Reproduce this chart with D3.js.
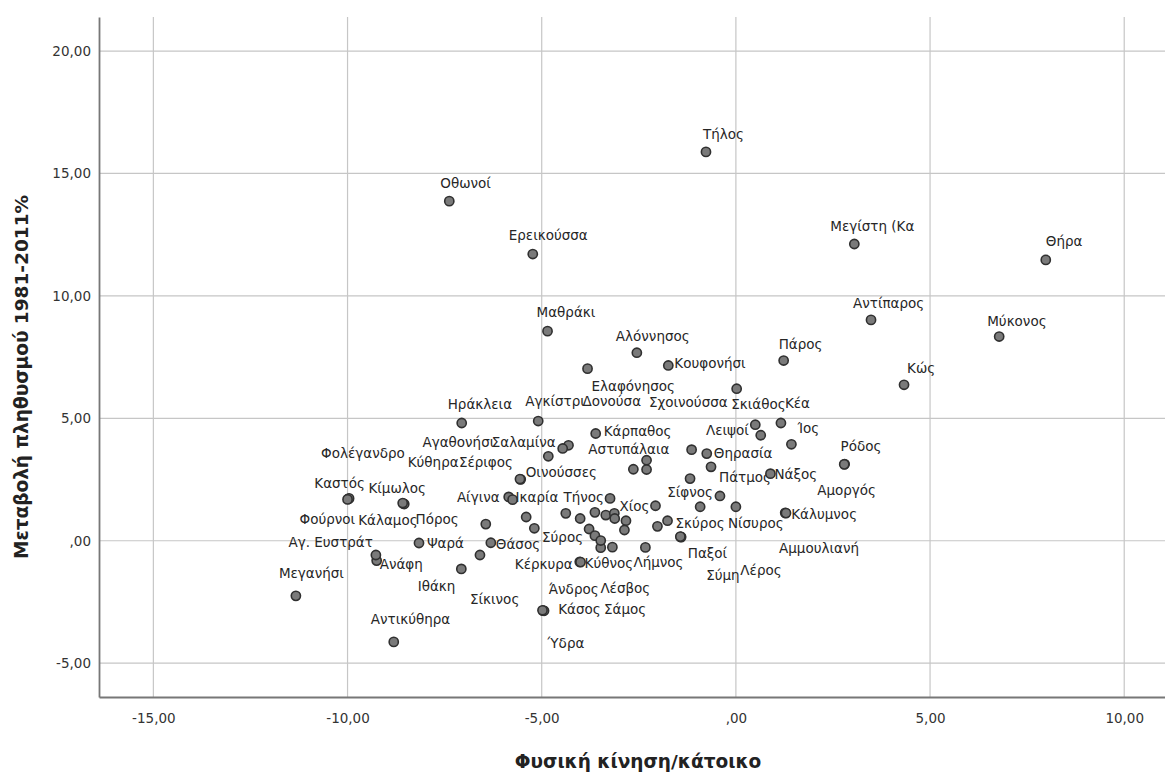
<!DOCTYPE html>
<html>
<head>
<meta charset="utf-8">
<script src="https://cdn.jsdelivr.net/npm/d3@7"></script>
<style>
  body { margin: 0; background: #fff; }
  svg { display: block; }
</style>
</head>
<body>
<svg id="chart"></svg>
<script>
// islands (null = point with no visible label)
const islands = [
  'Τήλος', 'Οθωνοί', 'Ερεικούσσα', 'Μεγίστη (Κα', 'Θήρα', 'Μαθράκι', 'Αλόννησος', 'Ελαφόνησος',
  'Κουφονήσι', 'Αντίπαρος', 'Μύκονος', 'Πάρος', 'Κώς', 'Σχοινούσσα', 'Κέα', 'Σκιάθος',
  'Λειψοί', 'Ίος', 'Ρόδος', 'Αμοργός', 'Νάξος', 'Κάλυμνος', 'Αμμουλιανή', 'Θηρασία',
  null, 'Πάτμος', null, 'Σίφνος', null, 'Νίσυρος', 'Σκύρος', null,
  'Παξοί', 'Σύμη', 'Λέρος', 'Χίος', 'Λήμνος', 'Κέρκυρα', 'Κύθνος', 'Κάσος',
  'Σάμος', 'Ύδρα', 'Άνδρος', 'Λέσβος', 'Σύρος', null, null, null,
  null, null, null, null, null, null, null, 'Τήνος',
  'Αστυπάλαια', null, null, 'Κάρπαθος', 'Δονούσα', 'Σαλαμίνα', 'Αγαθονήσι', 'Αγκίστρι',
  'Ηράκλεια', 'Οινούσσες', 'Σέριφος', 'Αίγινα', 'Ικαρία', null, null, 'Πόρος',
  'Θάσος', 'Σίκινος', 'Ιθάκη', 'Ψαρά', 'Ανάφη', 'Αγ. Ευστράτ', 'Μεγανήσι', 'Αντικύθηρα',
  'Καστός', 'Φολέγανδρο', 'Φούρνοι', 'Κίμωλος', 'Κάλαμος', 'Κύθηρα'
];

// natural movement per inhabitant
const naturalMove = [
  -0.77, -7.38, -5.23, 3.05, 7.98, -4.85, -2.55, -3.82,
  -1.74, 3.48, 6.78, 1.23, 4.33, 0.02, 1.16, 0.50,
  0.64, 1.43, 2.80, 2.79, 0.89, 1.27, 1.29, -0.75,
  -1.14, -0.64, -1.18, -0.41, -0.92, 0.00, -1.76, -2.02,
  -1.42, -1.41, -1.43, -2.07, -2.33, -4.02, -4.00, -4.96,
  -4.94, -4.98, -3.48, -3.18, -3.78, -4.38, -4.01, -3.63,
  -3.35, -3.13, -3.12, -2.83, -2.87, -3.63, -3.48, -3.24,
  -2.64, -2.30, -2.30, -3.61, -4.31, -4.46, -4.83, -5.09,
  -7.06, -5.54, -5.56, -5.85, -5.75, -5.40, -5.19, -6.44,
  -6.31, -6.59, -7.07, -8.16, -9.25, -9.27, -11.33, -8.81,
  -9.98, -9.96, -10.00, -8.56, -8.54, -8.58
];

// population change 1981-2011 %
const popChange = [
  15.88, 13.87, 11.71, 12.12, 11.47, 8.56, 7.68, 7.03,
  7.16, 9.02, 8.34, 7.36, 6.37, 6.21, 4.81, 4.74,
  4.31, 3.94, 3.13, 3.12, 2.74, 1.14, 1.13, 3.56,
  3.72, 3.02, 2.54, 1.83, 1.39, 1.39, 0.82, 0.59,
  0.16, 0.15, 0.17, 1.43, -0.27, -0.86, -0.87, -2.85,
  -2.86, -2.84, -0.28, -0.26, 0.48, 1.12, 0.91, 1.16,
  1.05, 1.12, 0.91, 0.82, 0.44, 0.21, 0.01, 1.73,
  2.92, 3.29, 2.91, 4.38, 3.90, 3.77, 3.45, 4.89,
  4.81, 2.51, 2.52, 1.79, 1.68, 0.97, 0.51, 0.68,
  -0.08, -0.58, -1.15, -0.09, -0.81, -0.58, -2.25, -4.13,
  1.71, 1.73, 1.69, 1.52, 1.50, 1.54
];

const xTicks = [-15, -10, -5, 0, 5, 10];
const yTicks = [-5, 0, 5, 10, 15, 20];

// label placement relative to the point: [dx, dy, anchor]
const labelPos = [
  [-3, -13], [-9, -13], [-24, -14], [-24, -13], [0, -14], [-11, -14], [-21, -12], [4, 22],
  [6, 3], [-18, -12], [-12, -11], [-5, -12], [3, -12], [-9, 18, 'end'], [4, -15], [-24, -16],
  [-12, 0, 'end'], [6, -11], [-4, -13], [-27, 31], [4, 5], [6, 6], [-7, 40], [7, 4],
  null, [8, 15], null, [-7, 1, 'end'], null, [-8, 21], [8, 7], null,
  [7, 21], [25, 43], [60, 38], [-6, 5, 'end'], [-12, 20], [-7, 7, 'end'], [4, 6], [15, 3],
  [60, 3], [5, 38], [-52, 46], [-12, 46], [-6, 13, 'end'], null, null, null,
  null, null, null, null, null, null, null, [-6, 4, 'end'],
  [-45, -15], null, null, [8, 2], [14, -39], [-7, -1, 'end'], [-54, -9, 'end'], [-13, -15],
  [-14, -14], [5, -2], [-7, -12, 'end'], [-9, 5, 'end'], [3, 2], null, null, [-27, 0, 'end'],
  [5, 6], [-10, 49], [-6, 22, 'end'], [8, 5], [3, 8], [-3, -8, 'end'], [-17, -18], [-23, -18],
  [-34, -11], [-28, -40], [-48, 25], [-35, -11], [-46, 21], [5, -36]
];

const width = 1165, height = 776;
const plot = { left: 99, right: 1165, top: 17, bottom: 697 };
const font = '"DejaVu Sans", sans-serif';

const svg = d3.select('#chart').attr('width', width).attr('height', height);

const x = d3.scaleLinear().domain([-16.4, 11.05]).range([plot.left, plot.right]);
const y = d3.scaleLinear().domain([-6.38, 21.39]).range([plot.bottom, plot.top]);

// SPSS style: comma decimals, ",00" for zero, plain hyphen for minus
const fmt = v => v === 0 ? ',00' : d3.format('.2f')(v).replace('.', ',').replace('\u2212', '-');

// grid
svg.append('g')
  .selectAll('line')
  .data(xTicks)
  .enter().append('line')
  .attr('x1', d => x(d)).attr('x2', d => x(d))
  .attr('y1', plot.top).attr('y2', plot.bottom)
  .style('stroke', '#c6c6c6')
  .style('stroke-width', 1.2);
svg.append('g')
  .selectAll('line')
  .data(yTicks)
  .enter().append('line')
  .attr('x1', plot.left).attr('x2', plot.right)
  .attr('y1', d => y(d)).attr('y2', d => y(d))
  .style('stroke', '#c6c6c6')
  .style('stroke-width', 1.2);

// axes
const xAxis = d3.axisBottom(x).tickValues(xTicks).tickFormat(fmt).tickSize(0).tickPadding(16);
const yAxis = d3.axisLeft(y).tickValues(yTicks).tickFormat(fmt).tickSize(0).tickPadding(8);

const gx = svg.append('g').attr('transform', `translate(0,${plot.bottom})`).call(xAxis);
const gy = svg.append('g').attr('transform', `translate(${plot.left},0)`).call(yAxis);
[gx, gy].forEach(g => {
  g.select('.domain').style('stroke', '#777').style('stroke-width', 1.8);
  g.selectAll('text')
    .style('font-family', font)
    .style('font-size', '13.5px')
    .style('fill', '#333');
});

// labels (under the points)
const rows = islands.map((name, i) => ({ name, x: naturalMove[i], y: popChange[i], pos: labelPos[i] }));

svg.append('g')
  .selectAll('text')
  .data(rows.filter(d => d.name && d.pos))
  .enter().append('text')
  .attr('x', d => x(d.x) + d.pos[0])
  .attr('y', d => y(d.y) + d.pos[1])
  .attr('text-anchor', d => d.pos[2] || 'start')
  .style('font-family', font)
  .style('font-size', '13.5px')
  .style('fill', '#262626')
  .text(d => d.name);

// points
svg.append('g')
  .selectAll('circle')
  .data(rows)
  .enter().append('circle')
  .attr('cx', d => x(d.x))
  .attr('cy', d => y(d.y))
  .attr('r', 4.6)
  .style('fill', '#7a7a7a')
  .style('stroke', '#303030')
  .style('stroke-width', 1.6);

// axis titles
svg.append('text')
  .attr('x', (plot.left + plot.right) / 2 + 6)
  .attr('y', 768)
  .attr('text-anchor', 'middle')
  .style('font-family', font)
  .style('font-size', '18.5px')
  .style('font-weight', 'bold')
  .style('fill', '#222')
  .text('Φυσική κίνηση/κάτοικο');

svg.append('text')
  .attr('transform', 'rotate(-90)')
  .attr('x', -377)
  .attr('y', 22)
  .attr('dy', '0.35em')
  .attr('text-anchor', 'middle')
  .style('font-family', font)
  .style('font-size', '18.5px')
  .style('font-weight', 'bold')
  .style('fill', '#222')
  .text('Μεταβολή πληθυσμού 1981-2011%');
</script>
</body>
</html>
